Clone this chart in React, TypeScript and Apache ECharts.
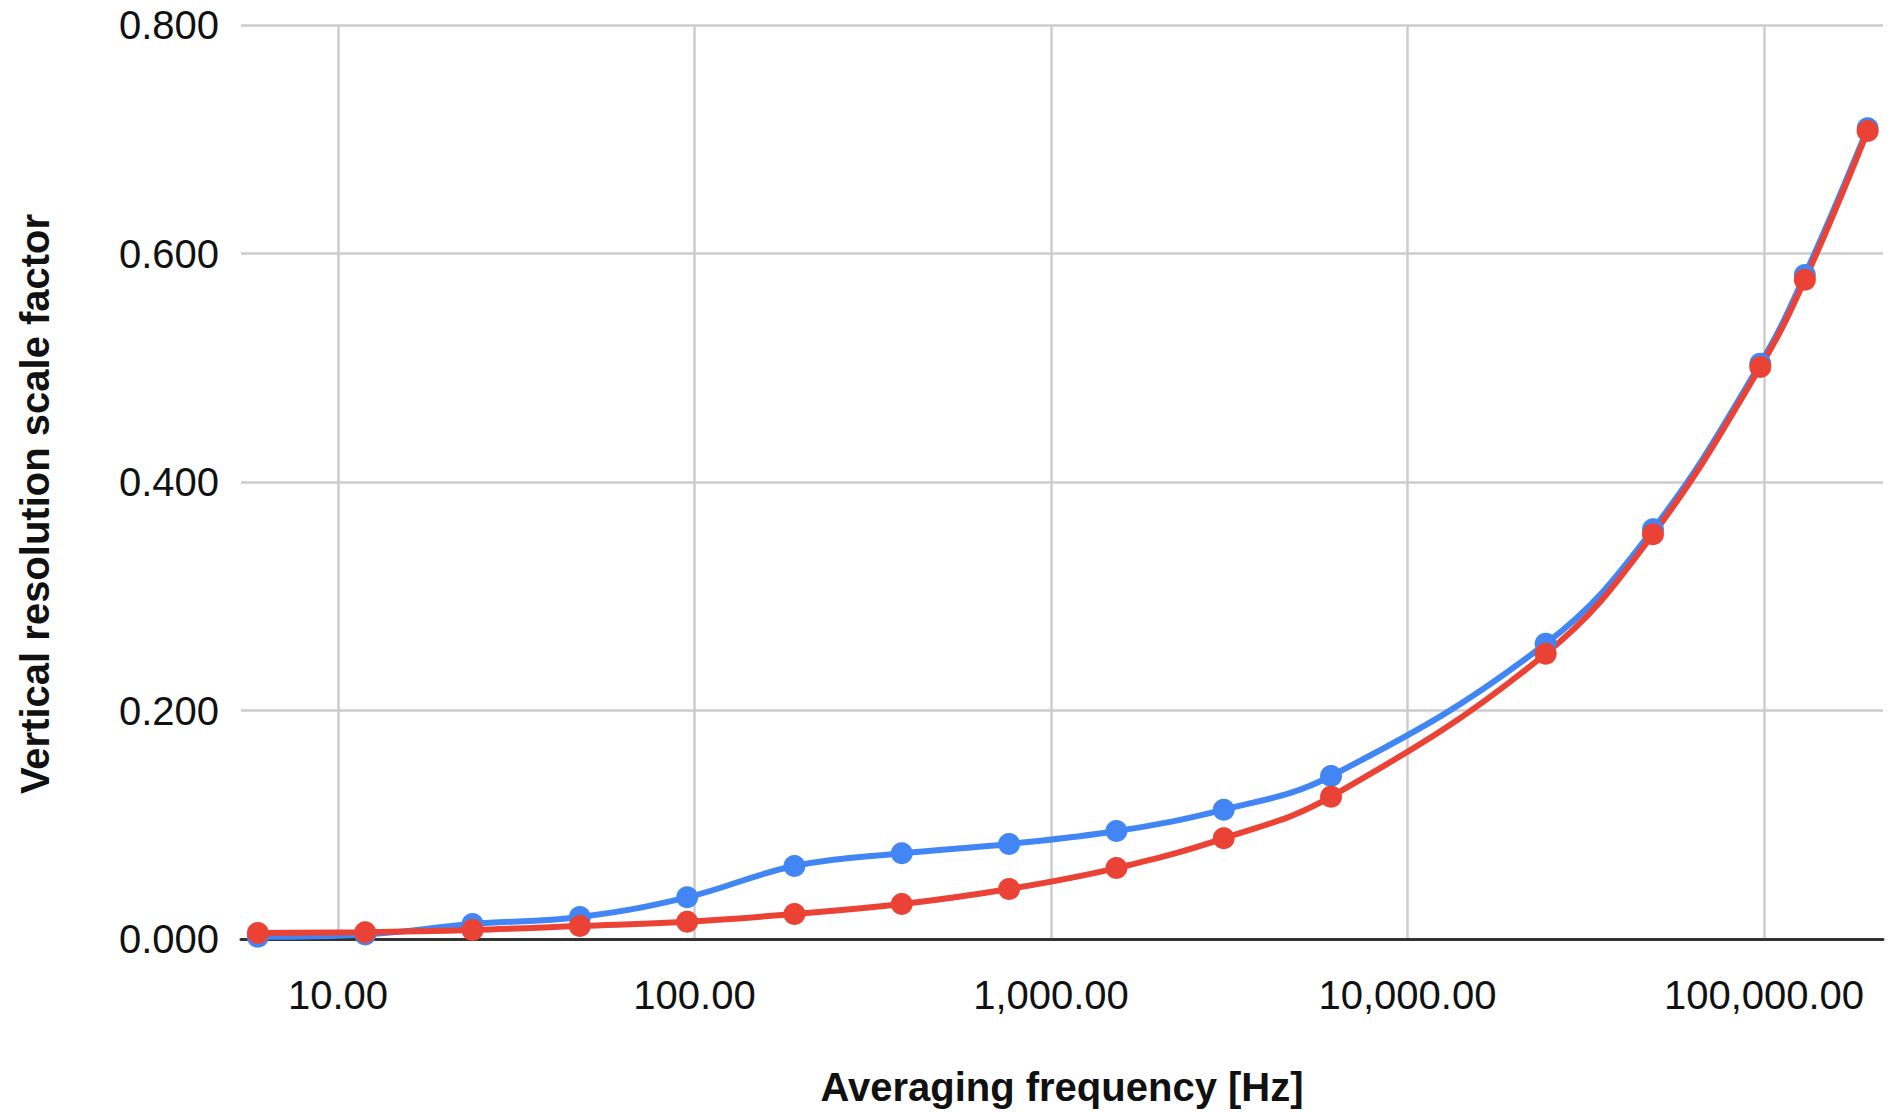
import React, { useEffect, useRef } from "react";
import * as echarts from "echarts";

const frequencies = [5.96, 11.92, 23.84, 47.68, 95.37, 190.7, 381.5, 762.9, 1525.9, 3051.8, 6103.5, 24414, 48828, 97656, 130208, 195313];
const seriesA = [0.002, 0.004, 0.0131, 0.0193, 0.0365, 0.0639, 0.075, 0.0832, 0.0945, 0.1132, 0.1427, 0.2585, 0.3586, 0.5036, 0.5812, 0.7096];
const seriesB = [0.0053, 0.0059, 0.0079, 0.0114, 0.0151, 0.0219, 0.0306, 0.0438, 0.0621, 0.0881, 0.1246, 0.2497, 0.3542, 0.5007, 0.5771, 0.7072];
const yTicks = [0, 0.2, 0.4, 0.6, 0.8];
const xTitle = "Averaging frequency [Hz]";
const yTitle = "Vertical resolution scale factor";

const FONT = "'Liberation Sans', Arial, sans-serif";

export default function App() {
  const ref = useRef<HTMLDivElement>(null);
  useEffect(() => {
    if (!ref.current) return;
    const chart = echarts.init(ref.current, null, { renderer: "svg" });
    const pairs = (ys: number[]) => frequencies.map((f, i) => [f, ys[i]]);
    chart.setOption({
      animation: false,
      backgroundColor: "#ffffff",
      grid: { left: 241, right: 10, top: 25, bottom: 173, containLabel: false },
      xAxis: {
        type: "log",
        logBase: 10,
        min: 5.345,
        max: 215700,
        name: xTitle,
        nameLocation: "middle",
        nameGap: 128,
        nameTextStyle: { fontFamily: FONT, fontSize: 40, fontWeight: "bold", color: "#111", lineHeight: 40 },
        axisLine: { show: true, onZero: false, lineStyle: { color: "#333", width: 3 } },
        axisTick: { show: false },
        axisLabel: {
          show: true,
          showMinLabel: false,
          showMaxLabel: false,
          margin: 36,
          fontFamily: FONT,
          fontSize: 40,
          color: "#111",
          formatter: (v: number) =>
            v.toLocaleString("en-US", { minimumFractionDigits: 2, maximumFractionDigits: 2 }),
        },
        splitLine: { show: true, showMinLine: false, showMaxLine: false, lineStyle: { color: "#cccccc", width: 2.5 } },
      },
      yAxis: {
        type: "value",
        min: yTicks[0],
        max: yTicks[yTicks.length - 1],
        interval: yTicks[1] - yTicks[0],
        name: yTitle,
        nameLocation: "middle",
        nameGap: 186,
        nameTextStyle: { fontFamily: FONT, fontSize: 40, fontWeight: "bold", color: "#111", lineHeight: 40, padding: [0, 44, 0, 0] },
        axisLine: { show: false },
        axisTick: { show: false },
        axisLabel: {
          margin: 22,
          fontFamily: FONT,
          fontSize: 40,
          color: "#111",
          formatter: (v: number) => v.toFixed(3),
        },
        splitLine: { show: true, lineStyle: { color: "#cccccc", width: 2.5 } },
      },
      series: [
        {
          type: "line",
          data: pairs(seriesA),
          smooth: 0.4,
          symbol: "circle",
          symbolSize: 22,
          lineStyle: { color: "#4285F4", width: 6 },
          itemStyle: { color: "#4285F4" },
        },
        {
          type: "line",
          data: pairs(seriesB),
          smooth: 0.4,
          symbol: "circle",
          symbolSize: 22,
          lineStyle: { color: "#EA4335", width: 6 },
          itemStyle: { color: "#EA4335" },
        },
      ],
    });
    return () => chart.dispose();
  }, []);
  return (
    <div
      ref={ref}
      style={{ position: "absolute", left: 0, top: 0, width: 1893, height: 1112, background: "#fff" }}
    />
  );
}
